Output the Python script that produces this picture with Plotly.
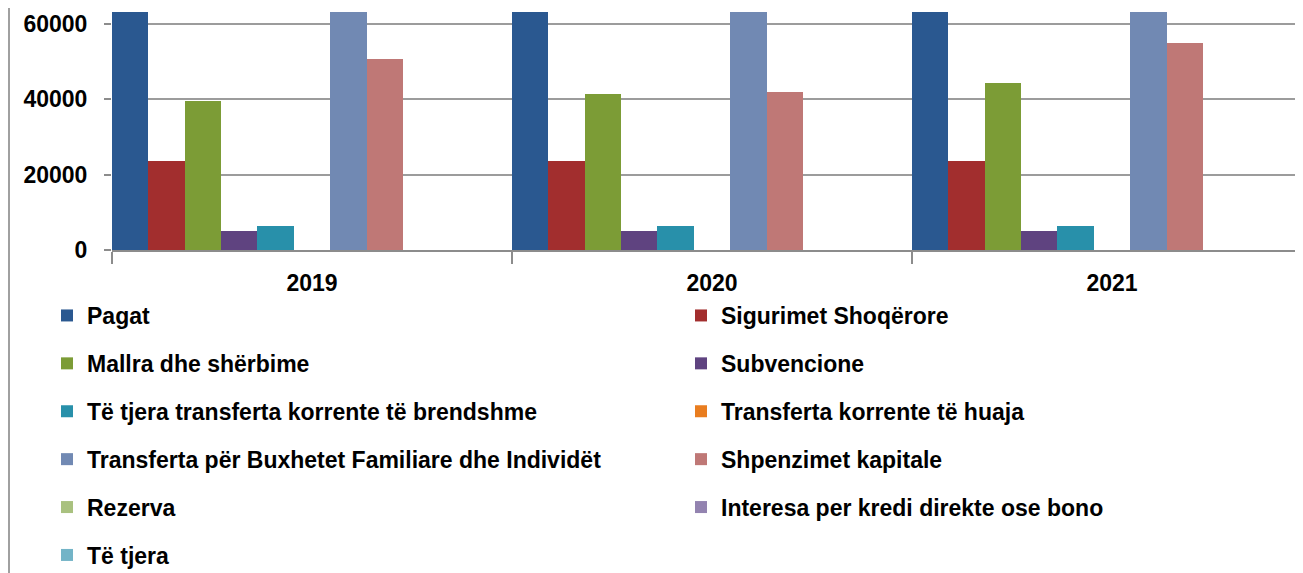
import plotly.graph_objects as go

years = ["2019", "2020", "2021"]

series_names = [
    "Pagat",
    "Sigurimet Shoqërore",
    "Mallra dhe shërbime",
    "Subvencione",
    "Të tjera transferta korrente të brendshme",
    "Transferta korrente të huaja",
    "Transferta për Buxhetet Familiare dhe Individët",
    "Shpenzimet kapitale",
    "Rezerva",
    "Interesa per kredi direkte ose bono",
    "Të tjera",
]

pagat = [75000, 76000, 78000]
sigurimet = [23600, 23600, 23600]
mallra = [39600, 41400, 44300]
subvencione = [5000, 5000, 5000]
tjera_transferta = [6400, 6400, 6400]
transferta_huaja = [0, 0, 0]
transferta_buxhetet = [72000, 74000, 75000]
shpenzimet_kapitale = [50700, 42000, 55000]
rezerva = [0, 0, 0]
interesa = [0, 0, 0]
te_tjera = [0, 0, 0]

values = [pagat, sigurimet, mallra, subvencione, tjera_transferta, transferta_huaja,
          transferta_buxhetet, shpenzimet_kapitale, rezerva, interesa, te_tjera]

colors = ["#2a5890", "#a22e2e", "#7c9c36", "#5f4380", "#2890aa", "#e97d1f",
          "#7189b3", "#bf7876", "#a9c17f", "#9383b0", "#73b4c7"]

# The page body has an 8px default margin, so figure coords = screen coords - 8
W, H = 1303, 573
L, R, T, B = 104, 1303, 4, 242  # plot area in figure pixels
CAT_PX = 400.0  # width of one category in pixels

fig = go.Figure()
for i, (name, vals, col) in enumerate(zip(series_names, values, colors)):
    fig.add_trace(go.Bar(
        x=years, y=vals, name=f"<b>{name}</b>",
        marker=dict(color=col, line=dict(width=0)),
        legend="legend" if i % 2 == 0 else "legend2",
        legendgroup=f"g{i}",
    ))

def px_to_paper_x(px):
    return (px - L) / (R - L)

def px_to_paper_y(py):
    return (B - py) / (B - T)

font_main = "Liberation Sans, Arial, sans-serif"
legend_common = dict(
    orientation="v",
    font=dict(family=font_main, size=23, color="#000000"),
    bgcolor="rgba(0,0,0,0)",
    tracegroupgap=15,
    yanchor="top",
    xanchor="left",
    traceorder="grouped",
    maxheight=1.0,
)

fig.update_layout(
    width=W, height=H,
    margin=dict(l=L, r=W - R, t=T, b=H - B, pad=0, autoexpand=False),
    paper_bgcolor="white",
    plot_bgcolor="white",
    barmode="group",
    bargap=0,
    bargroupgap=0,
    font=dict(family=font_main, color="#000000"),
    legend=dict(x=px_to_paper_x(39), y=px_to_paper_y(286), **legend_common),
    legend2=dict(x=px_to_paper_x(673), y=px_to_paper_y(286), **legend_common),
    xaxis=dict(
        type="category",
        range=[-0.5, -0.5 + (R - L) / CAT_PX],
        tickson="boundaries",
        ticks="outside",
        ticklen=12,
        tickcolor="#8c8c8c",
        tickwidth=1.5,
        showgrid=False,
        showline=True,
        linecolor="#8c8c8c",
        linewidth=1.5,
        tickvals=years,
        ticktext=[f"<b>{y}</b>" for y in years],
        ticklabelstandoff=12,
        tickfont=dict(family=font_main, size=23, color="#000000"),
        fixedrange=True,
    ),
    yaxis=dict(
        range=[0, 63200],
        tickvals=[0, 20000, 40000, 60000],
        ticktext=["<b>0</b>", "<b>20000</b>", "<b>40000</b>", "<b>60000</b>"],
        ticks="outside",
        ticklen=7,
        tickcolor="#8c8c8c",
        tickwidth=1.5,
        ticklabelstandoff=12,
        showgrid=True,
        gridcolor="#9c9c9c",
        gridwidth=1.5,
        zeroline=False,
        showline=False,
        tickfont=dict(family=font_main, size=23, color="#000000"),
        fixedrange=True,
    ),
    shapes=[dict(
        type="line", xref="paper", yref="paper",
        x0=px_to_paper_x(1), x1=px_to_paper_x(1),
        y0=px_to_paper_y(-10), y1=px_to_paper_y(H),
        line=dict(color="#a0a0a0", width=2),
    )],
)

fig.write_html("out.html")
